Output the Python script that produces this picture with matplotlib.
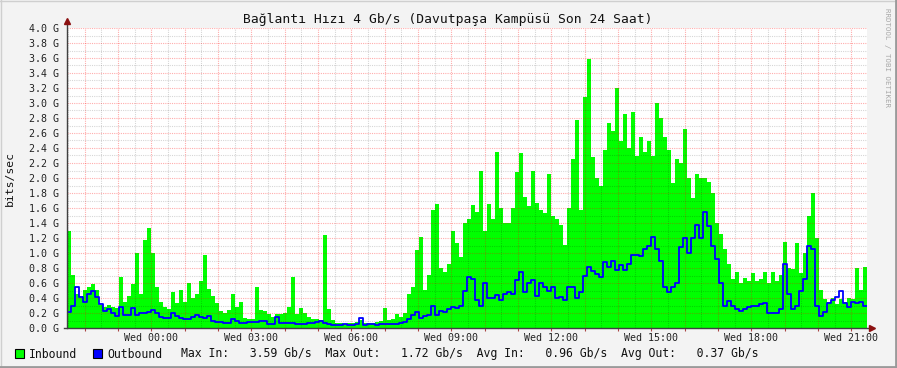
import matplotlib
matplotlib.use("Agg")
import matplotlib.pyplot as plt
import numpy as np
from matplotlib.patches import Rectangle
from matplotlib.lines import Line2D

# ---------------- data (Gb/s), one value per 7.2-minute bin, starting Tue 21:28 ----------------
inbound = [
    1.30, 0.70, 0.45, 0.42, 0.50, 0.55, 0.58, 0.50, 0.30, 0.28,
    0.30, 0.28, 0.27, 0.68, 0.35, 0.42, 0.58, 1.00, 0.45, 1.18,
    1.33, 1.00, 0.55, 0.35, 0.28, 0.25, 0.48, 0.33, 0.50, 0.35,
    0.60, 0.40, 0.45, 0.63, 0.97, 0.52, 0.42, 0.33, 0.22, 0.20,
    0.24, 0.45, 0.28, 0.35, 0.13, 0.12, 0.12, 0.55, 0.24, 0.22,
    0.18, 0.15, 0.18, 0.18, 0.20, 0.28, 0.68, 0.18, 0.27, 0.20,
    0.14, 0.12, 0.12, 0.10, 1.24, 0.25, 0.10, 0.06, 0.06, 0.05,
    0.07, 0.06, 0.08, 0.10, 0.07, 0.06, 0.07, 0.08, 0.09, 0.26,
    0.10, 0.12, 0.18, 0.15, 0.20, 0.45, 0.55, 1.04, 1.22, 0.50,
    0.70, 1.57, 1.66, 0.80, 0.75, 0.85, 1.30, 1.13, 0.95, 1.40,
    1.45, 1.64, 1.55, 2.10, 1.30, 1.66, 1.45, 2.35, 1.60, 1.40,
    1.40, 1.60, 2.08, 2.33, 1.75, 1.62, 2.10, 1.67, 1.58, 1.54,
    2.05, 1.50, 1.45, 1.37, 1.10, 1.60, 2.25, 2.77, 1.58, 3.08,
    3.59, 2.28, 2.00, 1.90, 2.38, 2.73, 2.63, 3.20, 2.50, 2.85,
    2.40, 2.88, 2.30, 2.55, 2.35, 2.50, 2.30, 3.00, 2.80, 2.55,
    2.38, 1.93, 2.25, 2.20, 2.65, 2.00, 1.73, 2.05, 2.00, 2.00,
    1.95, 1.80, 1.40, 1.25, 1.05, 0.85, 0.65, 0.75, 0.60, 0.66,
    0.62, 0.73, 0.63, 0.65, 0.75, 0.60, 0.75, 0.62, 0.70, 1.15,
    0.80, 0.78, 1.13, 0.73, 1.00, 1.50, 1.80, 1.20, 0.50, 0.38,
    0.35, 0.40, 0.32, 0.38, 0.35, 0.40, 0.38, 0.80, 0.50, 0.82,
]
outbound = [
    0.22, 0.30, 0.55, 0.42, 0.35, 0.45, 0.50, 0.42, 0.32, 0.23,
    0.25, 0.20, 0.16, 0.28, 0.18, 0.18, 0.27, 0.18, 0.20, 0.20,
    0.22, 0.24, 0.20, 0.15, 0.14, 0.14, 0.20, 0.16, 0.13, 0.12,
    0.12, 0.15, 0.17, 0.15, 0.13, 0.16, 0.10, 0.08, 0.08, 0.07,
    0.07, 0.12, 0.10, 0.07, 0.07, 0.08, 0.08, 0.08, 0.10, 0.09,
    0.06, 0.06, 0.15, 0.07, 0.07, 0.07, 0.07, 0.06, 0.06, 0.06,
    0.07, 0.07, 0.08, 0.10, 0.07, 0.05, 0.04, 0.04, 0.04, 0.05,
    0.04, 0.04, 0.05, 0.13, 0.04, 0.05, 0.05, 0.04, 0.05, 0.05,
    0.05, 0.05, 0.06, 0.07, 0.08, 0.12, 0.18, 0.22, 0.14, 0.16,
    0.18, 0.30, 0.18, 0.23, 0.22, 0.25, 0.28, 0.27, 0.30, 0.50,
    0.68, 0.65, 0.38, 0.30, 0.60, 0.40, 0.40, 0.44, 0.38, 0.45,
    0.48, 0.45, 0.64, 0.75, 0.48, 0.60, 0.64, 0.43, 0.60, 0.55,
    0.50, 0.55, 0.40, 0.42, 0.38, 0.55, 0.55, 0.40, 0.48, 0.70,
    0.82, 0.76, 0.72, 0.68, 0.88, 0.82, 0.90, 0.78, 0.84, 0.78,
    0.86, 0.98, 0.98, 0.96, 1.05, 1.10, 1.22, 1.05, 0.90, 0.55,
    0.48, 0.55, 0.60, 1.08, 1.20, 1.00, 1.20, 1.38, 1.20, 1.55,
    1.36, 1.10, 0.92, 0.60, 0.30, 0.36, 0.30, 0.26, 0.23, 0.26,
    0.28, 0.30, 0.30, 0.32, 0.34, 0.20, 0.20, 0.20, 0.26, 0.86,
    0.45, 0.26, 0.30, 0.50, 0.65, 1.10, 1.05, 0.30, 0.16, 0.22,
    0.33, 0.38, 0.42, 0.50, 0.34, 0.28, 0.35, 0.33, 0.35, 0.30,
]
start_hour = 21 + 28 / 60.0          # Tue 21:28
span_hours = 24.0
y_ticks = [round(0.2 * k, 1) for k in range(21)]
y_tick_labels = ["%.1f G" % v for v in y_ticks]
x_label_names = ["Wed 00:00", "Wed 03:00", "Wed 06:00", "Wed 09:00",
                 "Wed 12:00", "Wed 15:00", "Wed 18:00", "Wed 21:00"]
x_label_hours = [24, 27, 30, 33, 36, 39, 42, 45]   # hours since Tue 00:00
title = "Bağlantı Hızı 4 Gb/s (Davutpaşa Kampüsü Son 24 Saat)"
legend_stats = "Max In:   3.59 Gb/s  Max Out:   1.72 Gb/s  Avg In:   0.96 Gb/s  Avg Out:   0.37 Gb/s"

MONO = "DejaVu Sans Mono"
W, H = 897, 368

fig = plt.figure(figsize=(W / 100, H / 100), dpi=100)
fig.patch.set_facecolor("#F3F3F3")

def fx(x):
    return x / W

def fy(y):
    return 1 - y / H

ax = fig.add_axes([fx(67), fy(328), 800 / W, 300 / H])
ax.set_facecolor("white")

n = len(inbound)
edges = np.linspace(0, span_hours, n + 1)
inb = np.append(inbound, inbound[-1])
outb = np.append(outbound, outbound[-1])

ax.fill_between(edges, 0, inb, step="post", color="#00FF00", linewidth=0, zorder=1)
ax.step(edges, outb, where="post", color="#0000FF", linewidth=1.3, zorder=4)

ax.set_xlim(0, span_hours)
ax.set_ylim(0, 4.0)

# x ticks: hourly major, half-hour minor
first_hour = np.ceil(start_hour)
hour_pos = [h - start_hour for h in np.arange(first_hour, start_hour + span_hours + 0.001, 1.0)]
half_pos = [h - start_hour for h in np.arange(first_hour - 0.5, start_hour + span_hours, 1.0) if h > start_hour]
label_pos = [h - start_hour for h in x_label_hours]
ax.set_xticks(hour_pos)
ax.set_xticklabels([""] * len(hour_pos))
ax.set_xticks(half_pos, minor=True)
ax.set_yticks(y_ticks)
ax.set_yticklabels(y_tick_labels, family=MONO, fontsize=7.2, color="#222222")
ax.set_yticks([0.1 + 0.2 * k for k in range(20)], minor=True)

ax.grid(which="major", color="#FF0000", alpha=0.32, linestyle=(0, (1, 1)), linewidth=0.8)
ax.grid(which="minor", color="#000000", alpha=0.16, linestyle=(0, (1, 1)), linewidth=0.8)
ax.set_axisbelow(False)
for gl in ax.get_xgridlines() + ax.get_ygridlines():
    gl.set_zorder(2)
for gl in ax.xaxis.get_minorticklines():
    pass

ax.tick_params(axis="y", which="both", length=0, pad=6)
ax.tick_params(axis="x", which="major", length=2, color="#AA4444", pad=4)
ax.tick_params(axis="x", which="minor", length=0)

for name, p in zip(x_label_names, label_pos):
    ax.text(p, -0.033, name, transform=ax.get_xaxis_transform(), ha="center", va="center",
            family=MONO, fontsize=7.2, color="#222222")

for s in ax.spines.values():
    s.set_visible(False)

# axis lines with arrows (rrdtool style)
fig.add_artist(Line2D([fx(67), fx(67)], [fy(328), fy(22)], color="#404040", lw=1.0))
fig.add_artist(Line2D([fx(64), fx(872)], [fy(328), fy(328)], color="#404040", lw=1.0))
fig.add_artist(Line2D([fx(67)], [fy(21)], marker="^", markersize=4, color="#8B1010", lw=0))
fig.add_artist(Line2D([fx(872)], [fy(328)], marker=">", markersize=4, color="#8B1010", lw=0))

# title and labels
fig.text(fx(448), fy(19), title, ha="center", va="center", family=MONO, fontsize=9.4, color="#111111")
fig.text(fx(10), fy(178), "bits/sec", rotation=90, ha="center", va="center", family=MONO,
         fontsize=8.2, color="#111111")
fig.text(fx(887), fy(58), "RRDTOOL / TOBI OETIKER", rotation=270, ha="center", va="center",
         family=MONO, fontsize=5.3, color="#A8A8A8")

# legend
fig.add_artist(Rectangle((fx(15), fy(358)), 9 / W, 9 / H, facecolor="#00FF00", edgecolor="#000000", lw=0.8))
fig.add_artist(Rectangle((fx(93), fy(358)), 9 / W, 9 / H, facecolor="#0000FF", edgecolor="#000000", lw=0.8))
fig.text(fx(29), fy(354), "Inbound", ha="left", va="center", family=MONO, fontsize=8.3, color="#111111")
fig.text(fx(107), fy(354), "Outbound", ha="left", va="center", family=MONO, fontsize=8.3, color="#111111")
fig.text(fx(181), fy(354), legend_stats, ha="left", va="center", family=MONO, fontsize=8.3, color="#111111")

# frame of image
fig.add_artist(Line2D([0, 1], [fy(0.5), fy(0.5)], color="#CFCFCF", lw=1.0))
fig.add_artist(Line2D([fx(0.5), fx(0.5)], [0, 1], color="#CFCFCF", lw=1.0))
fig.add_artist(Line2D([fx(895.5), fx(895.5)], [0, 1], color="#9A9A9A", lw=2.0))
fig.add_artist(Line2D([0, 1], [fy(366.5), fy(366.5)], color="#9A9A9A", lw=2.0))

fig.savefig("out.png", dpi=100, facecolor=fig.get_facecolor())
